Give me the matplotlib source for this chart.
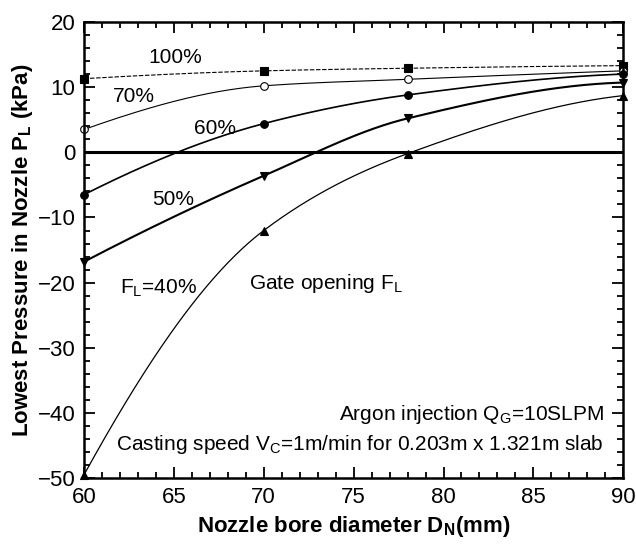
import numpy as np
import matplotlib.pyplot as plt
from matplotlib.ticker import MultipleLocator

plt.rcParams['font.family'] = ['Liberation Sans', 'DejaVu Sans']
plt.rcParams['mathtext.fontset'] = 'custom'
plt.rcParams['mathtext.rm'] = 'Liberation Sans'
plt.rcParams['mathtext.bf'] = 'Liberation Sans:bold'

# nozzle bore diameter (mm)
d_n = [60, 70, 78, 90]

# lowest pressure (kPa) for each gate opening
p_100 = [11.3, 12.5, 12.9, 13.3]
p_70 = [3.5, 10.2, 11.2, 12.5]
p_60 = [-6.5, 4.4, 8.8, 12.0]
p_50 = [-16.8, -3.6, 5.2, 10.7]
p_40 = [-49.5, -12.0, -0.2, 8.7]

fig = plt.figure(figsize=(6.36, 5.49), dpi=100)
ax = fig.add_axes([0.132, 0.129, 0.848, 0.831])


def pchip(x, y, xs):
    # monotone cubic (Fritsch-Carlson) so the curves stay smooth without wiggles
    x = np.asarray(x, float)
    y = np.asarray(y, float)
    h = np.diff(x)
    d = np.diff(y) / h
    m = np.zeros_like(y)
    for k in range(1, len(x) - 1):
        if d[k - 1] * d[k] > 0:
            w1 = 2 * h[k] + h[k - 1]
            w2 = h[k] + 2 * h[k - 1]
            m[k] = (w1 + w2) / (w1 / d[k - 1] + w2 / d[k])
    m[0] = ((2 * h[0] + h[1]) * d[0] - h[0] * d[1]) / (h[0] + h[1])
    m[-1] = ((2 * h[-1] + h[-2]) * d[-1] - h[-1] * d[-2]) / (h[-1] + h[-2])
    if m[0] * d[0] < 0:
        m[0] = 0
    if m[-1] * d[-1] < 0:
        m[-1] = 0
    i = np.clip(np.searchsorted(x, xs) - 1, 0, len(x) - 2)
    t = (xs - x[i]) / h[i]
    h00 = 2 * t**3 - 3 * t**2 + 1
    h10 = t**3 - 2 * t**2 + t
    h01 = -2 * t**3 + 3 * t**2
    h11 = t**3 - t**2
    return h00 * y[i] + h10 * h[i] * m[i] + h01 * y[i + 1] + h11 * h[i] * m[i + 1]


def curve(x, y, marker, lw, ls='-', mfc='black', ms=5.5):
    xs = np.linspace(x[0], x[-1], 300)
    ax.plot(xs, pchip(x, y, xs), color='black', lw=lw, ls=ls)
    ax.plot(x, y, marker, color='black', mfc=mfc, ms=ms, ls='none', mew=0.8,
            clip_on=False)


curve(d_n, p_100, 's', 0.8, ls=(0, (4, 1.5)))
curve(d_n, p_70, 'o', 0.8, mfc='white')
curve(d_n, p_60, 'o', 1.2)
curve(d_n, p_50, 'v', 1.5)
curve(d_n, p_40, '^', 0.9)

ax.axhline(0, color='black', lw=2.2)

fs = 15
ax.text(63.6, 14.6, '100%', fontsize=fs, va='center')
ax.text(61.6, 8.5, '70%', fontsize=fs, va='center')
ax.text(66.1, 3.7, '60%', fontsize=fs, va='center')
ax.text(63.8, -7.2, '50%', fontsize=fs, va='center')
ax.text(62.0, -20.8, r'F$_\mathregular{L}$=40%', fontsize=fs, va='center')
ax.text(69.2, -20.2, r'Gate opening F$_\mathregular{L}$', fontsize=fs, va='center')
ax.text(88.9, -40.2, r'Argon injection Q$_\mathregular{G}$=10SLPM', fontsize=fs,
        ha='right', va='center')
ax.text(88.9, -44.9, r'Casting speed V$_\mathregular{C}$=1m/min for 0.203m x 1.321m slab',
        fontsize=fs, ha='right', va='center')

ax.set_xlim(60, 90)
ax.set_ylim(-50, 20)
ax.xaxis.set_major_locator(MultipleLocator(5))
ax.xaxis.set_minor_locator(MultipleLocator(1))
ax.yaxis.set_major_locator(MultipleLocator(10))
ax.yaxis.set_minor_locator(MultipleLocator(2))
ax.tick_params(which='both', direction='in', top=True, right=True, labelsize=16, width=1.3)
ax.tick_params(which='major', length=8, pad=6)
ax.tick_params(which='minor', length=4)
for s in ax.spines.values():
    s.set_linewidth(1.8)

ax.set_xlabel(r'Nozzle bore diameter D$_\mathregular{N}$(mm)', fontsize=16,
              fontweight='bold', labelpad=5)
ax.set_ylabel(r'Lowest Pressure in Nozzle P$_\mathregular{L}$ (kPa)', fontsize=16,
              fontweight='bold', labelpad=2)

fig.savefig('out.png', dpi=100)
